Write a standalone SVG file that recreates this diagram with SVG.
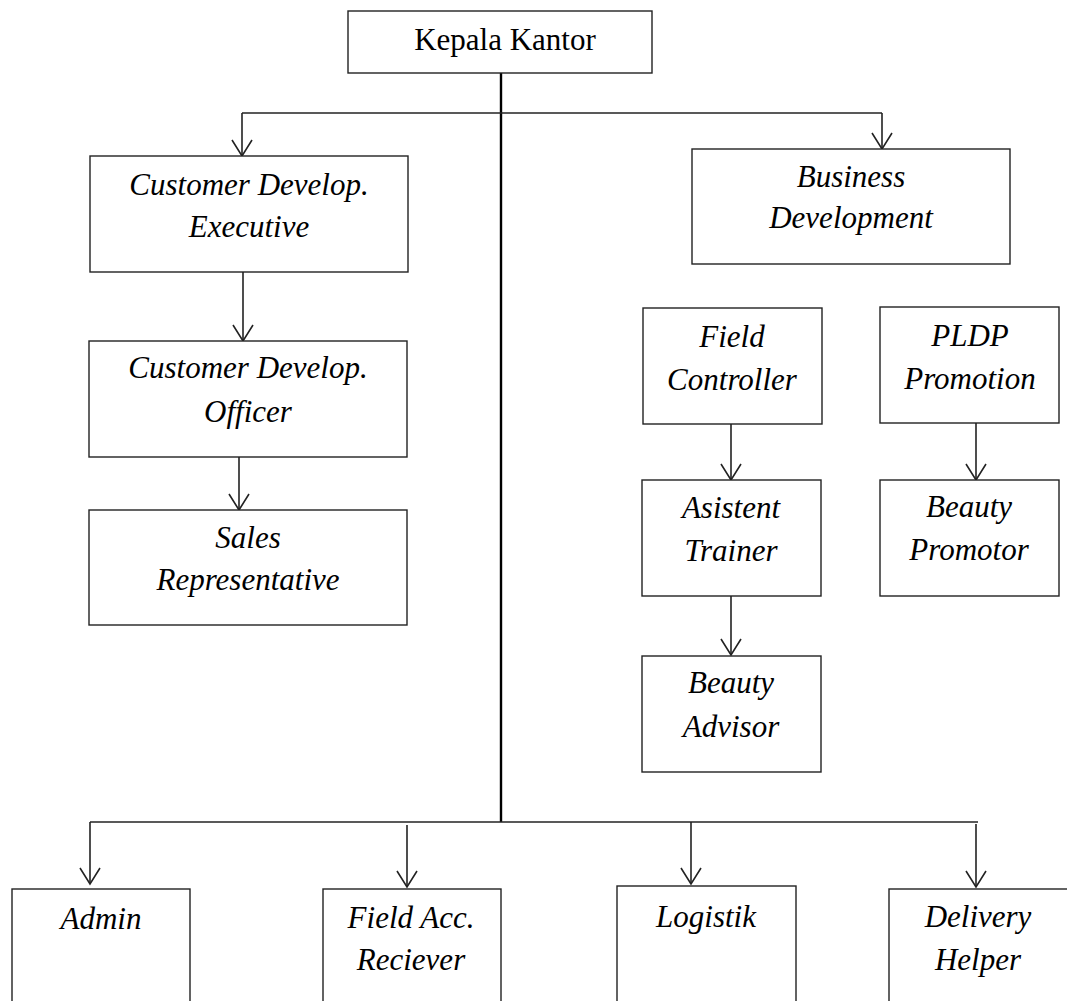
<svg xmlns="http://www.w3.org/2000/svg" width="1067" height="1001" viewBox="0 0 1067 1001">
<style>
.box{fill:#fff;stroke:#222;stroke-width:1.4}
.t{font-family:"Liberation Serif","Times New Roman",serif;font-size:31px;fill:#000;text-anchor:middle}
.i{font-style:italic}
.ln{fill:none;stroke:#222;stroke-width:1.6}
.main{fill:none;stroke:#000;stroke-width:2.4}
</style>
<defs>
<marker id="ah" viewBox="-18 -12 20 24" refX="0" refY="0" markerWidth="20" markerHeight="24" markerUnits="userSpaceOnUse" orient="auto">
<path d="M -16 -10 L 0 0 L -16 10" fill="none" stroke="#222" stroke-width="1.6"/>
</marker>
</defs>
<rect width="1067" height="1001" fill="#fff"/>
<g id="connectors">
<line class="main" x1="501" y1="73" x2="501" y2="822"/>
<path class="ln" d="M 242 113 L 882 113"/>
<path class="ln" d="M 242 113 L 242 156" marker-end="url(#ah)"/>
<path class="ln" d="M 882 113 L 882 149" marker-end="url(#ah)"/>
<path class="ln" d="M 243 272 L 243 341" marker-end="url(#ah)"/>
<path class="ln" d="M 239 457 L 239 510" marker-end="url(#ah)"/>
<path class="ln" d="M 731 424 L 731 480" marker-end="url(#ah)"/>
<path class="ln" d="M 976 423 L 976 480" marker-end="url(#ah)"/>
<path class="ln" d="M 731 596 L 731 655" marker-end="url(#ah)"/>
<path class="ln" d="M 90 822 L 978 822"/>
<path class="ln" d="M 90 822 L 90 884" marker-end="url(#ah)"/>
<path class="ln" d="M 407 825 L 407 887" marker-end="url(#ah)"/>
<path class="ln" d="M 691 822 L 691 884" marker-end="url(#ah)"/>
<path class="ln" d="M 976 824 L 976 887" marker-end="url(#ah)"/>
</g>
<g id="kepala-kantor">
<rect class="box" x="348" y="11" width="304" height="62"/>
<text class="t" x="505" y="50">Kepala Kantor</text>
</g>
<g id="cd-executive">
<rect class="box" x="90" y="156" width="318" height="116"/>
<text class="t i" x="249" y="195">Customer Develop.</text>
<text class="t i" x="249" y="237">Executive</text>
</g>
<g id="cd-officer">
<rect class="box" x="89" y="341" width="318" height="116"/>
<text class="t i" x="248" y="378">Customer Develop.</text>
<text class="t i" x="248" y="422">Officer</text>
</g>
<g id="sales-rep">
<rect class="box" x="89" y="510" width="318" height="115"/>
<text class="t i" x="248" y="548">Sales</text>
<text class="t i" x="248" y="590">Representative</text>
</g>
<g id="business-dev">
<rect class="box" x="692" y="149" width="318" height="115"/>
<text class="t i" x="851" y="187">Business</text>
<text class="t i" x="851" y="228">Development</text>
</g>
<g id="field-controller">
<rect class="box" x="643" y="308" width="179" height="116"/>
<text class="t i" x="732" y="347">Field</text>
<text class="t i" x="732" y="390">Controller</text>
</g>
<g id="pldp-promotion">
<rect class="box" x="880" y="307" width="179" height="116"/>
<text class="t i" x="970" y="346">PLDP</text>
<text class="t i" x="970" y="389">Promotion</text>
</g>
<g id="asistent-trainer">
<rect class="box" x="642" y="480" width="179" height="116"/>
<text class="t i" x="731" y="518">Asistent</text>
<text class="t i" x="731" y="561">Trainer</text>
</g>
<g id="beauty-promotor">
<rect class="box" x="880" y="480" width="179" height="116"/>
<text class="t i" x="969" y="517">Beauty</text>
<text class="t i" x="969" y="560">Promotor</text>
</g>
<g id="beauty-advisor">
<rect class="box" x="642" y="656" width="179" height="116"/>
<text class="t i" x="731" y="693">Beauty</text>
<text class="t i" x="731" y="737">Advisor</text>
</g>
<g id="admin">
<rect class="box" x="12" y="889" width="178" height="130"/>
<text class="t i" x="101" y="929">Admin</text>
</g>
<g id="field-acc-reciever">
<rect class="box" x="323" y="889" width="178" height="130"/>
<text class="t i" x="411" y="928">Field Acc.</text>
<text class="t i" x="411" y="970">Reciever</text>
</g>
<g id="logistik">
<rect class="box" x="617" y="886" width="179" height="130"/>
<text class="t i" x="706" y="927">Logistik</text>
</g>
<g id="delivery-helper">
<rect class="box" x="889" y="889" width="180" height="130"/>
<text class="t i" x="978" y="927">Delivery</text>
<text class="t i" x="978" y="970">Helper</text>
</g>
</svg>
